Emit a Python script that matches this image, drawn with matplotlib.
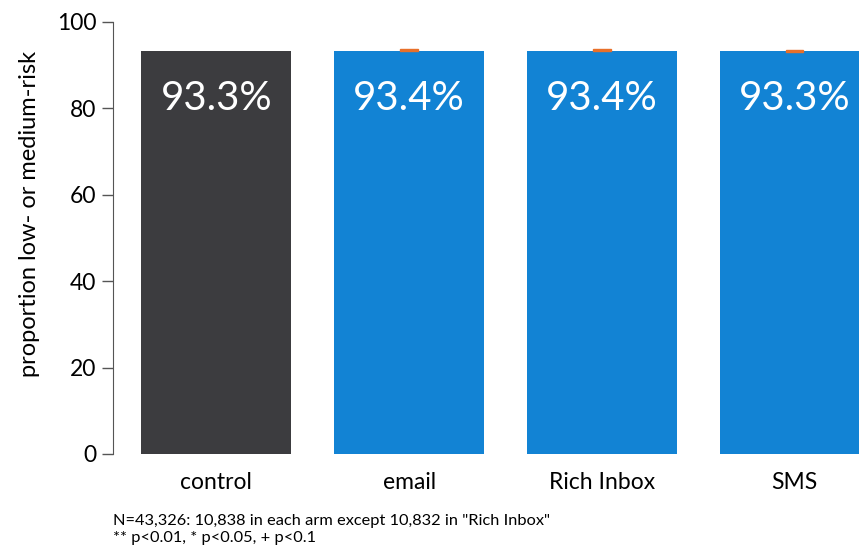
import matplotlib
matplotlib.use("Agg")
import matplotlib.pyplot as plt
from matplotlib.patches import Rectangle

plt.rcParams['font.family'] = ['Lato', 'DejaVu Sans']

arms = ["control", "email", "Rich Inbox", "SMS"]
shares = [93.3, 93.4, 93.4, 93.3]
labels = ["93.3%", "93.4%", "93.4%", "93.3%"]
# interval markers drawn on the treatment arms
ci_low = [None, 93.2, 93.2, 93.1]
ci_high = [None, 93.7, 93.7, 93.6]
yticks = [0, 20, 40, 60, 80, 100]
footnote = ['N=43,326: 10,838 in each arm except 10,832 in "Rich Inbox"',
            '** p<0.01, * p<0.05, + p<0.1']

colors = ["#3c3c3f", "#1283d4", "#1283d4", "#1283d4"]

W, H = 859, 550
fig = plt.figure(figsize=(W / 100, H / 100), dpi=100)
left, right, bottom, top = 113, 859, 454, 22
ax = fig.add_axes([left / W, 1 - bottom / H, (right - left) / W, (bottom - top) / H])

x = list(range(len(arms)))
ax.bar(x, shares, width=0.777, color=colors, zorder=2)

for xi, lo, hi in zip(x, ci_low, ci_high):
    if lo is None:
        continue
    ax.add_patch(Rectangle((xi - 0.045, lo), 0.09, hi - lo, color="#e8702a", zorder=3))

for xi, v, lab in zip(x, shares, labels):
    ax.text(xi, v - 11, lab, color="white", fontsize=29, ha="center", va="center", zorder=4)

ax.set_xlim(-0.536, 3.334)
ax.set_ylim(0, 100)
ax.set_yticks(yticks)
ax.tick_params(axis="y", labelsize=16.5, length=8, width=1, color="#555555", pad=4)
ax.set_xticks(x)
ax.set_xticklabels(arms, fontsize=16.5)
ax.tick_params(axis="x", length=0, pad=13)
for s in ["top", "right", "bottom"]:
    ax.spines[s].set_visible(False)
ax.spines["left"].set_color("#555555")
ax.spines["left"].set_bounds(0, 100)
ax.set_ylabel("proportion low- or medium-risk", fontsize=17)
ax.yaxis.set_label_coords(-0.098, 0.555)

fig.text(113 / W, 1 - 521 / H, footnote[0], fontsize=11.8, va="center")
fig.text(113 / W, 1 - 538 / H, footnote[1], fontsize=11.8, va="center")

fig.savefig("out.png", dpi=100)
